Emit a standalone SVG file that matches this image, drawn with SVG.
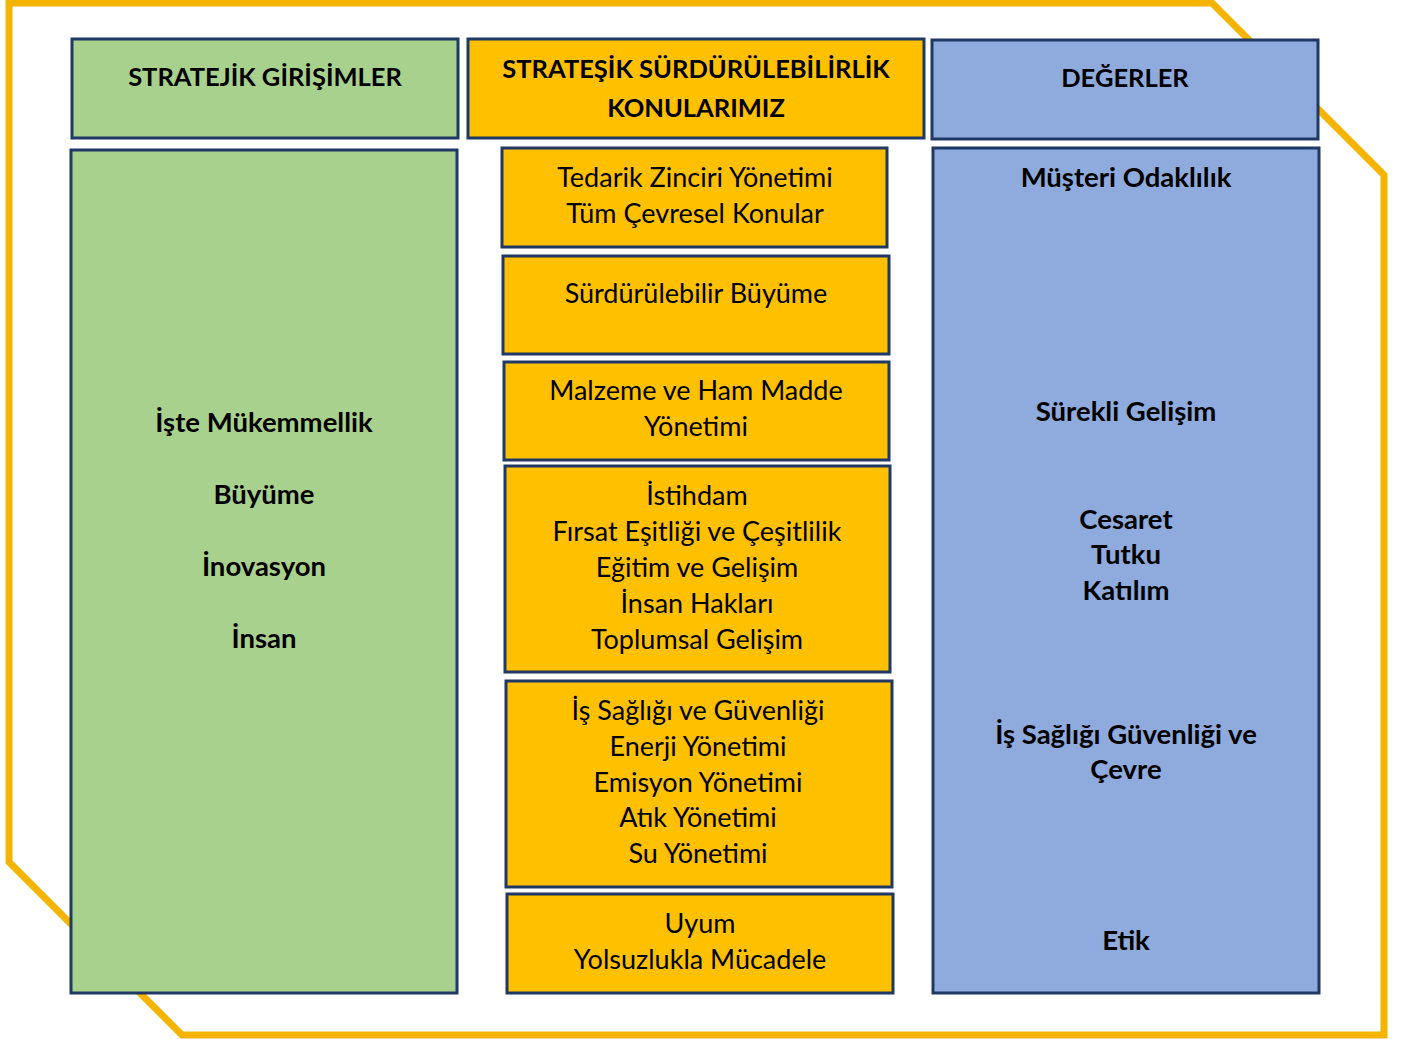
<svg xmlns="http://www.w3.org/2000/svg" width="1405" height="1039" viewBox="0 0 1405 1039">
<style>
.box{stroke:#1F3864;stroke-width:3}
.g{fill:#A9D18E}.o{fill:#FFC000}.b{fill:#8FAADC}
text{font-family:Lato,"Open Sans","Liberation Sans",sans-serif;fill:#000;text-anchor:middle}
.h{font-size:25.5px;font-weight:bold}
.t{font-size:27px}
.bt{font-size:27.5px;font-weight:bold}
</style>
<rect width="1405" height="1039" fill="#fff"/>
<g id="frame">
<polygon points="9,3 1212,3 1384,175 1384,1035 182,1035 9,862" fill="none" stroke="#F4B400" stroke-width="7"/>
</g>
<g id="head-girisimler"><rect class="box g" x="72" y="39" width="386" height="99"/><text class="h" x="265" y="86">STRATEJİK GİRİŞİMLER</text></g>
<g id="head-konular"><rect class="box o" x="468" y="39" width="456" height="99"/><text class="h" x="696" y="78">STRATEŞİK SÜRDÜRÜLEBİLİRLİK</text><text class="h" x="696" y="117">KONULARIMIZ</text></g>
<g id="head-degerler"><rect class="box b" x="932" y="40" width="386" height="99"/><text class="h" x="1125" y="87">DEĞERLER</text></g>
<g id="girisimler"><rect class="box g" x="71" y="150" width="386" height="843"/>
<text class="bt" x="264" y="432">İşte Mükemmellik</text>
<text class="bt" x="264" y="504">Büyüme</text>
<text class="bt" x="264" y="576">İnovasyon</text>
<text class="bt" x="264" y="648">İnsan</text></g>
<g id="k1"><rect class="box o" x="502" y="148" width="385" height="99"/>
<text class="t" x="695" y="187">Tedarik Zinciri Yönetimi</text><text class="t" x="695" y="223">Tüm Çevresel Konular</text></g>
<g id="k2"><rect class="box o" x="503" y="256" width="386" height="98"/>
<text class="t" x="696" y="303">Sürdürülebilir Büyüme</text></g>
<g id="k3"><rect class="box o" x="504" y="362" width="385" height="98"/>
<text class="t" x="696" y="400">Malzeme ve Ham Madde</text><text class="t" x="696" y="436">Yönetimi</text></g>
<g id="k4"><rect class="box o" x="505" y="466" width="385" height="206"/>
<text class="t" x="697" y="505">İstihdam</text><text class="t" x="697" y="541">Fırsat Eşitliği ve Çeşitlilik</text><text class="t" x="697" y="577">Eğitim ve Gelişim</text><text class="t" x="697" y="613">İnsan Hakları</text><text class="t" x="697" y="649">Toplumsal Gelişim</text></g>
<g id="k5"><rect class="box o" x="506" y="681" width="386" height="206"/>
<text class="t" x="698" y="720">İş Sağlığı ve Güvenliği</text><text class="t" x="698" y="756">Enerji Yönetimi</text><text class="t" x="698" y="792">Emisyon Yönetimi</text><text class="t" x="698" y="827">Atık Yönetimi</text><text class="t" x="698" y="863">Su Yönetimi</text></g>
<g id="k6"><rect class="box o" x="507" y="894" width="386" height="99"/>
<text class="t" x="700" y="933">Uyum</text><text class="t" x="700" y="969">Yolsuzlukla Mücadele</text></g>
<g id="degerler"><rect class="box b" x="933" y="148" width="386" height="845"/>
<text class="bt" x="1126" y="187">Müşteri Odaklılık</text>
<text class="bt" x="1126" y="421">Sürekli Gelişim</text>
<text class="bt" x="1126" y="529">Cesaret</text>
<text class="bt" x="1126" y="564">Tutku</text>
<text class="bt" x="1126" y="600">Katılım</text>
<text class="bt" x="1126" y="744">İş Sağlığı Güvenliği ve</text>
<text class="bt" x="1126" y="779">Çevre</text>
<text class="bt" x="1126" y="950">Etik</text></g>
<g id="connectors"/>
</svg>
